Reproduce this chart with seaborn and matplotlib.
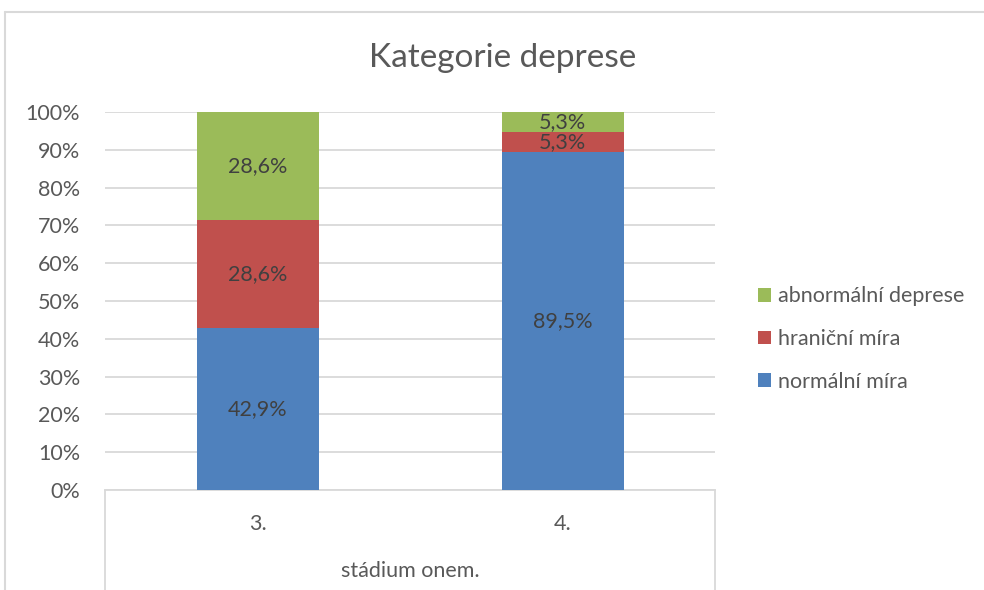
import matplotlib
matplotlib.use("Agg")
import matplotlib.pyplot as plt
from matplotlib.patches import Patch
from matplotlib.lines import Line2D
import numpy as np
import pandas as pd
import seaborn as sns

# Data: share of patients in each depression category per disease stage (%)
stages = ["3.", "4."]
normal = [42.9, 89.5]
borderline = [28.6, 5.3]
abnormal = [28.6, 5.3]
series_names = ["normální míra", "hraniční míra", "abnormální deprese"]
colors = ["#4F81BD", "#C0504D", "#9BBB59"]
y_ticks = [0, 10, 20, 30, 40, 50, 60, 70, 80, 90, 100]

sns.set_theme(style="white")
plt.rcParams["font.family"] = ["Lato", "DejaVu Sans"]

text_col = "#595959"
grid_col = "#D9D9D9"
fs = 15.5

fig = plt.figure(figsize=(9.84, 5.90), dpi=100)
ax = fig.add_axes([105 / 984, 100 / 590, 610 / 984, 378 / 590])

values = [normal, borderline, abnormal]
cum = np.cumsum(np.array(values), axis=0)

# Stacked columns: draw cumulative totals from the top segment down
for i in range(len(values) - 1, -1, -1):
    df = pd.DataFrame({"stage": stages, "value": cum[i] / 100.0})
    sns.barplot(data=df, x="stage", y="value", color=colors[i], width=0.4,
                saturation=1, ax=ax, zorder=3, linewidth=0)

# Data labels at segment centres
for i, vals in enumerate(values):
    for j, v in enumerate(vals):
        bottom = cum[i][j] - v
        ax.text(j, (bottom + v / 2) / 100.0, f"{v:.1f}%".replace(".", ","),
                ha="center", va="center", fontsize=fs, color="#404040", zorder=4)

ax.set_ylim(0, 1)
ax.set_xlim(-0.5, 1.5)
ax.set_yticks([t / 100 for t in y_ticks])
ax.set_yticklabels([f"{t}%" for t in y_ticks], fontsize=fs, color=text_col)
ax.tick_params(axis="y", length=0, pad=18)
ax.tick_params(axis="x", length=0, pad=17)
ax.set_xticks([0, 1])
ax.set_xticklabels(stages, fontsize=fs, color=text_col)
ax.yaxis.grid(True, color=grid_col, linewidth=1.3, zorder=0)
ax.set_axisbelow(True)
for s in ["left", "right", "top"]:
    ax.spines[s].set_visible(False)
ax.spines["bottom"].set_color(grid_col)
ax.spines["bottom"].set_linewidth(1.3)
ax.set_xlabel("stádium onem.", fontsize=fs, color=text_col, labelpad=20)
ax.set_ylabel("")

# Category axis box lines below the plot area
for xp in (105, 715):
    fig.add_artist(Line2D([xp / 984, xp / 984], [0, 100 / 590],
                          color=grid_col, linewidth=1.3))

# Chart frame (top and left edges visible within the canvas)
top_y = 1 - 12 / 590
fig.add_artist(Line2D([5 / 984, 1.01], [top_y, top_y], color=grid_col, linewidth=1.5))
fig.add_artist(Line2D([5 / 984, 5 / 984], [0, top_y], color=grid_col, linewidth=1.5))

fig.text(503 / 984, 1 - 58 / 590, "Kategorie deprese", ha="center", va="center",
         fontsize=24, color=text_col)

handles = [Patch(facecolor=colors[i], edgecolor="none") for i in range(2, -1, -1)]
labels = [series_names[i] for i in range(2, -1, -1)]
fig.legend(handles, labels, loc="center left",
           bbox_to_anchor=(739 / 984, 1 - 339 / 590), frameon=False,
           fontsize=fs, labelcolor=text_col, handlelength=0.6, handleheight=0.6,
           handletextpad=0.3, labelspacing=1.05)

fig.savefig("out.png", dpi=100)
